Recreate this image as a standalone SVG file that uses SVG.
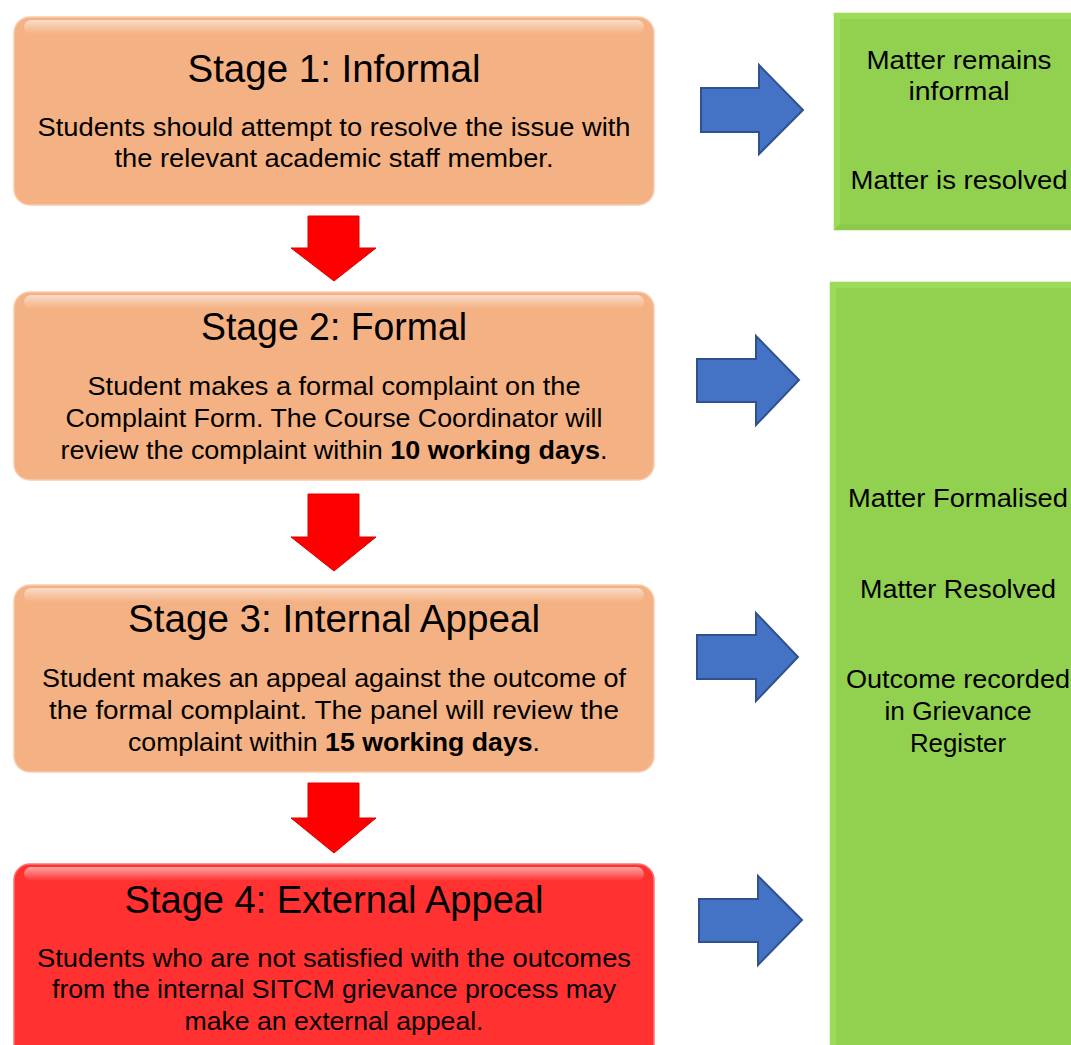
<svg xmlns="http://www.w3.org/2000/svg" width="1071" height="1045" viewBox="0 0 1071 1045">
<style>
.title{font-family:"Liberation Sans",Arial,sans-serif;font-size:38px;fill:#000;text-anchor:middle}
.body{font-family:"Liberation Sans",Arial,sans-serif;font-size:26px;fill:#000;text-anchor:middle}
.gt{font-family:"Liberation Sans",Arial,sans-serif;font-size:25px;fill:#000;text-anchor:middle}
.b{font-weight:bold}
.stage{fill:#f4b183;stroke:#f8cbad;stroke-width:1.5}
.stage4{fill:#ff3131;stroke:#ff7070;stroke-width:1.5}
.gloss{fill:url(#gloss)}
.green{fill:#92d050;stroke:#c8eba0;stroke-width:1}
.bev-l{fill:#9cdb58}
.bev-b{fill:#8dca4b}
.red{fill:url(#redg);stroke:#e00000;stroke-width:1}
.blue{fill:#4472c4;stroke:#2f528f;stroke-width:2;stroke-linejoin:miter}
</style>
<defs>
<linearGradient id="gloss" x1="0" y1="0" x2="0" y2="1">
<stop offset="0" stop-color="#fff" stop-opacity="0.55"/>
<stop offset="1" stop-color="#fff" stop-opacity="0"/>
</linearGradient>
<linearGradient id="redg" x1="0" y1="0" x2="1" y2="0">
<stop offset="0" stop-color="#ff0000"/>
<stop offset="0.8" stop-color="#ff0000"/>
<stop offset="1" stop-color="#e80000"/>
</linearGradient>
</defs>

<g id="stage1">
<rect class="stage" x="14" y="17" width="640" height="188" rx="16"/>
<rect class="gloss" x="24" y="20" width="620" height="14" rx="7"/>
<text class="title" x="334" y="82" textLength="293" lengthAdjust="spacingAndGlyphs">Stage 1: Informal</text>
<text class="body" x="334" y="136" textLength="593" lengthAdjust="spacingAndGlyphs">Students should attempt to resolve the issue with</text>
<text class="body" x="334" y="167" textLength="439" lengthAdjust="spacingAndGlyphs">the relevant academic staff member.</text>
</g>

<g id="stage2">
<rect class="stage" x="14" y="292" width="640" height="188" rx="16"/>
<rect class="gloss" x="24" y="295" width="620" height="14" rx="7"/>
<text class="title" x="334" y="340" textLength="266" lengthAdjust="spacingAndGlyphs">Stage 2: Formal</text>
<text class="body" x="334" y="395" textLength="493" lengthAdjust="spacingAndGlyphs">Student makes a formal complaint on the</text>
<text class="body" x="334" y="427" textLength="537" lengthAdjust="spacingAndGlyphs">Complaint Form. The Course Coordinator will</text>
<text class="body" x="334" y="459" textLength="547" lengthAdjust="spacingAndGlyphs">review the complaint within <tspan class="b">10 working days</tspan>.</text>
</g>

<g id="stage3">
<rect class="stage" x="14" y="585" width="640" height="187" rx="16"/>
<rect class="gloss" x="24" y="588" width="620" height="14" rx="7"/>
<text class="title" x="334" y="632" textLength="412" lengthAdjust="spacingAndGlyphs">Stage 3: Internal Appeal</text>
<text class="body" x="334" y="687" textLength="584" lengthAdjust="spacingAndGlyphs">Student makes an appeal against the outcome of</text>
<text class="body" x="334" y="719" textLength="570" lengthAdjust="spacingAndGlyphs">the formal complaint. The panel will review the</text>
<text class="body" x="334" y="751" textLength="412" lengthAdjust="spacingAndGlyphs">complaint within <tspan class="b">15 working days</tspan>.</text>
</g>

<g id="stage4">
<rect class="stage4" x="14" y="864" width="640" height="200" rx="16"/>
<rect class="gloss" x="24" y="867" width="620" height="14" rx="7"/>
<text class="title" x="334" y="913" textLength="419" lengthAdjust="spacingAndGlyphs">Stage 4: External Appeal</text>
<text class="body" x="334" y="967" textLength="594" lengthAdjust="spacingAndGlyphs">Students who are not satisfied with the outcomes</text>
<text class="body" x="334" y="998" textLength="564" lengthAdjust="spacingAndGlyphs">from the internal SITCM grievance process may</text>
<text class="body" x="334" y="1030" textLength="299" lengthAdjust="spacingAndGlyphs">make an external appeal.</text>
</g>

<g id="outcome1">
<rect class="green" x="834" y="13" width="250" height="217"/>
<polygon class="bev-l" points="834,13 1071,13 1071,19 840,19"/>
<polygon class="bev-l" points="834,13 840,19 840,224 834,230"/>
<polygon class="bev-b" points="834,230 840,224 1071,224 1071,230"/>
<text class="gt" x="959" y="69" textLength="185" lengthAdjust="spacingAndGlyphs">Matter remains</text>
<text class="gt" x="959" y="100" textLength="101" lengthAdjust="spacingAndGlyphs">informal</text>
<text class="gt" x="959" y="189" textLength="217" lengthAdjust="spacingAndGlyphs">Matter is resolved</text>
</g>

<g id="outcome2">
<rect class="green" x="830" y="282" width="250" height="780"/>
<polygon class="bev-l" points="830,282 1071,282 1071,288 836,288"/>
<polygon class="bev-l" points="830,282 836,288 836,1045 830,1045"/>
<text class="gt" x="958" y="507" textLength="220" lengthAdjust="spacingAndGlyphs">Matter Formalised</text>
<text class="gt" x="958" y="598" textLength="196" lengthAdjust="spacingAndGlyphs">Matter Resolved</text>
<text class="gt" x="958" y="688" textLength="224" lengthAdjust="spacingAndGlyphs">Outcome recorded</text>
<text class="gt" x="958" y="720" textLength="147" lengthAdjust="spacingAndGlyphs">in Grievance</text>
<text class="gt" x="958" y="752" textLength="96" lengthAdjust="spacingAndGlyphs">Register</text>
</g>

<g id="connectors">
<polygon class="red" points="308,216 359,216 359,248 376,248 334,281 291,248 308,248"/>
<polygon class="red" points="308,494 359,494 359,537 376,537 334,571 291,537 308,537"/>
<polygon class="red" points="308,783 359,783 359,818 376,818 334,853 291,818 308,818"/>
<polygon class="blue" points="701,88 759,88 759,65 803,110 759,154 759,132 701,132"/>
<polygon class="blue" points="697,359 756,359 756,336 799,380 756,425 756,402 697,402"/>
<polygon class="blue" points="697,635 756,635 756,613 798,657 756,701 756,679 697,679"/>
<polygon class="blue" points="699,899 758,899 758,876 802,920 758,965 758,942 699,942"/>
</g>
</svg>
